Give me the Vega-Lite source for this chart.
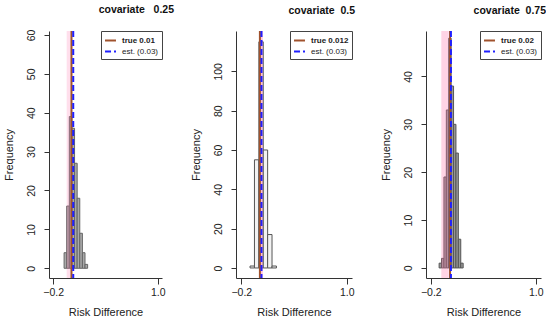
{
  "$schema": "https://vega.github.io/schema/vega-lite/v6.json",
  "background": "white",
  "padding": {"left": 3, "top": 4, "right": 0, "bottom": 0},
  "bounds": "flush",
  "spacing": 74,
  "config": {
    "view": {"stroke": null},
    "font": "Liberation Sans",
    "legend": {"orient": "top-right", "offset": 0, "strokeColor": "#444", "fillColor": "white", "padding": 3, "symbolType": "stroke", "symbolSize": 120, "symbolStrokeWidth": 2, "labelFontSize": 8, "rowPadding": 0, "labelOffset": 5, "cornerRadius": 0, "titlePadding": 0, "labelColor": "#222"},
    "axisX": {"domain": true, "domainColor": "#333", "domainWidth": 1, "grid": false, "tickSize": 6, "tickWidth": 1, "tickColor": "#333", "labelFontSize": 10.5, "labelPadding": 3, "labelOverlap": false, "labelFlush": false, "titleFontSize": 11, "titleFontWeight": "normal", "titlePadding": 9, "labelColor": "#222", "titleColor": "#222", "zindex": 1},
    "axisY": {"domain": true, "domainColor": "#333", "domainWidth": 1, "grid": false, "tickSize": 5, "tickWidth": 1, "tickColor": "#333", "labelFontSize": 10.5, "labelAngle": -90, "labelAlign": "center", "labelBaseline": "bottom", "labelPadding": 8, "labelOverlap": false, "labelFlush": false, "titleFontSize": 11, "titleFontWeight": "normal", "titlePadding": 12, "labelColor": "#222", "titleColor": "#222", "zindex": 1},
    "title": {"anchor": "end", "frame": "group", "fontSize": 10.5, "fontWeight": "bold", "offset": 14, "color": "#111"}
  },
  "resolve": {"scale": {"color": "independent", "strokeDash": "independent"}, "legend": {"color": "independent", "strokeDash": "independent"}},
  "hconcat": [
    {
      "width": 113, "height": 247,
      "title": {"text": "covariate\u00a0\u00a0\u00a00.25", "dx": 12},
      "layer": [
        {
          "data": {"values": [
            {"lo": -0.075, "hi": -0.045, "count": 4},
            {"lo": -0.045, "hi": -0.015, "count": 16},
            {"lo": -0.015, "hi": 0.015, "count": 39},
            {"lo": 0.015, "hi": 0.045, "count": 36},
            {"lo": 0.045, "hi": 0.075, "count": 27},
            {"lo": 0.075, "hi": 0.105, "count": 18},
            {"lo": 0.105, "hi": 0.135, "count": 9},
            {"lo": 0.135, "hi": 0.165, "count": 4},
            {"lo": 0.165, "hi": 0.195, "count": 1}
          ]},
          "mark": {"type": "rect", "fill": "#a9a9a9", "stroke": "#666", "strokeWidth": 1},
          "encoding": {
            "x": {"field": "lo", "type": "quantitative", "scale": {"domain": [-0.248, 1.048], "nice": false, "zero": false}, "axis": {"values": [-0.2, 0, 0.2, 0.4, 0.6, 0.8, 1.0], "labelOverlap": false, "labelExpr": "abs(round(datum.value*10)) % 4 == 2 ? format(datum.value, '.1f') : ''"}, "title": "Risk Difference"},
            "x2": {"field": "hi"},
            "y": {"field": "count", "type": "quantitative", "scale": {"domain": [-2.5, 61], "nice": false, "zero": false}, "axis": {"values": [0, 10, 20, 30, 40, 50, 60], "labelOverlap": false}, "title": "Frequency"},
            "y2": {"datum": 0}
          }
        },
        {
          "data": {"values": [{"lo": -0.045, "hi": 0.005}]},
          "mark": {"type": "rect", "fill": "#ff6fa8", "opacity": 0.22},
          "encoding": {
            "x": {"field": "lo", "type": "quantitative", "title": "Risk Difference", "axis": {"labelOverlap": false}},
            "x2": {"field": "hi"}
          }
        },
        {
          "data": {"values": [{"k": "true 0.01", "v": 0.01}, {"k": "est. (0.03)", "v": 0.03}]},
          "mark": {"type": "rule", "strokeWidth": 2},
          "encoding": {
            "x": {"field": "v", "type": "quantitative", "title": "Risk Difference", "axis": {"labelOverlap": false}},
            "color": {"field": "k", "type": "nominal", "scale": {"domain": ["true 0.01", "est. (0.03)"], "range": ["#a0522d", "#1f1fff"]}, "legend": {"title": null, "encode": {"labels": {"update": {"fontWeight": {"signal": "indexof(datum.value, 'true') == 0 ? 'bold' : 'normal'"}}}}}},
            "strokeDash": {"field": "k", "type": "nominal", "scale": {"domain": ["true 0.01", "est. (0.03)"], "range": [[1, 0], [6, 3]]}, "legend": {"title": null, "encode": {"labels": {"update": {"fontWeight": {"signal": "indexof(datum.value, 'true') == 0 ? 'bold' : 'normal'"}}}}}}
          }
        }
      ]
    },
    {
      "width": 116, "height": 247,
      "title": {"text": "covariate\u00a0\u00a00.5", "dx": 3},
      "layer": [
        {
          "data": {"values": [
            {"lo": -0.1, "hi": -0.05, "count": 1},
            {"lo": -0.05, "hi": 0.0, "count": 55},
            {"lo": 0.0, "hi": 0.05, "count": 115},
            {"lo": 0.05, "hi": 0.1, "count": 60},
            {"lo": 0.1, "hi": 0.15, "count": 17},
            {"lo": 0.15, "hi": 0.2, "count": 1}
          ]},
          "mark": {"type": "rect", "fill": "#f2f2f2", "stroke": "#555", "strokeWidth": 1},
          "encoding": {
            "x": {"field": "lo", "type": "quantitative", "scale": {"domain": [-0.26, 1.06], "nice": false, "zero": false}, "axis": {"values": [-0.2, 0, 0.2, 0.4, 0.6, 0.8, 1.0], "labelOverlap": false, "labelExpr": "abs(round(datum.value*10)) % 4 == 2 ? format(datum.value, '.1f') : ''"}, "title": "Risk Difference"},
            "x2": {"field": "hi"},
            "y": {"field": "count", "type": "quantitative", "scale": {"domain": [-5.1, 120.5], "nice": false, "zero": false}, "axis": {"values": [0, 20, 40, 60, 80, 100], "labelOverlap": false}, "title": "Frequency"},
            "y2": {"datum": 0}
          }
        },
        {
          "data": {"values": [{"lo": 0.005, "hi": 0.045}]},
          "mark": {"type": "rect", "fill": "#ff6fa8", "opacity": 0.4},
          "encoding": {
            "x": {"field": "lo", "type": "quantitative", "title": "Risk Difference", "axis": {"labelOverlap": false}},
            "x2": {"field": "hi"}
          }
        },
        {
          "data": {"values": [{"k": "true 0.012", "v": 0.012}, {"k": "est. (0.03)", "v": 0.03}]},
          "mark": {"type": "rule", "strokeWidth": 2},
          "encoding": {
            "x": {"field": "v", "type": "quantitative", "title": "Risk Difference", "axis": {"labelOverlap": false}},
            "color": {"field": "k", "type": "nominal", "scale": {"domain": ["true 0.012", "est. (0.03)"], "range": ["#a0522d", "#1f1fff"]}, "legend": {"title": null, "encode": {"labels": {"update": {"fontWeight": {"signal": "indexof(datum.value, 'true') == 0 ? 'bold' : 'normal'"}}}}}},
            "strokeDash": {"field": "k", "type": "nominal", "scale": {"domain": ["true 0.012", "est. (0.03)"], "range": [[1, 0], [6, 3]]}, "legend": {"title": null, "encode": {"labels": {"update": {"fontWeight": {"signal": "indexof(datum.value, 'true') == 0 ? 'bold' : 'normal'"}}}}}}
          }
        }
      ]
    },
    {
      "width": 115, "height": 247,
      "title": {"text": "covariate\u00a0\u00a00.75", "dx": 5},
      "layer": [
        {
          "data": {"values": [
            {"lo": -0.105, "hi": -0.0775, "count": 1},
            {"lo": -0.0775, "hi": -0.05, "count": 2},
            {"lo": -0.05, "hi": -0.0225, "count": 19},
            {"lo": -0.0225, "hi": 0.005, "count": 33},
            {"lo": 0.005, "hi": 0.0325, "count": 48},
            {"lo": 0.0325, "hi": 0.06, "count": 38},
            {"lo": 0.06, "hi": 0.0875, "count": 30},
            {"lo": 0.0875, "hi": 0.115, "count": 24},
            {"lo": 0.115, "hi": 0.1425, "count": 6},
            {"lo": 0.1425, "hi": 0.17, "count": 1}
          ]},
          "mark": {"type": "rect", "fill": "#999999", "stroke": "#555", "strokeWidth": 1},
          "encoding": {
            "x": {"field": "lo", "type": "quantitative", "scale": {"domain": [-0.255, 1.06], "nice": false, "zero": false}, "axis": {"values": [-0.2, 0, 0.2, 0.4, 0.6, 0.8, 1.0], "labelOverlap": false, "labelExpr": "abs(round(datum.value*10)) % 4 == 2 ? format(datum.value, '.1f') : ''"}, "title": "Risk Difference"},
            "x2": {"field": "hi"},
            "y": {"field": "count", "type": "quantitative", "scale": {"domain": [-2.1, 49.5], "nice": false, "zero": false}, "axis": {"values": [0, 10, 20, 30, 40], "labelOverlap": false}, "title": "Frequency"},
            "y2": {"datum": 0}
          }
        },
        {
          "data": {"values": [{"lo": -0.08, "hi": 0.005}]},
          "mark": {"type": "rect", "fill": "#ff6fa8", "opacity": 0.3},
          "encoding": {
            "x": {"field": "lo", "type": "quantitative", "title": "Risk Difference", "axis": {"labelOverlap": false}},
            "x2": {"field": "hi"}
          }
        },
        {
          "data": {"values": [{"k": "true 0.02", "v": 0.02}, {"k": "est. (0.03)", "v": 0.03}]},
          "mark": {"type": "rule", "strokeWidth": 2},
          "encoding": {
            "x": {"field": "v", "type": "quantitative", "title": "Risk Difference", "axis": {"labelOverlap": false}},
            "color": {"field": "k", "type": "nominal", "scale": {"domain": ["true 0.02", "est. (0.03)"], "range": ["#a0522d", "#1f1fff"]}, "legend": {"title": null, "encode": {"labels": {"update": {"fontWeight": {"signal": "indexof(datum.value, 'true') == 0 ? 'bold' : 'normal'"}}}}}},
            "strokeDash": {"field": "k", "type": "nominal", "scale": {"domain": ["true 0.02", "est. (0.03)"], "range": [[1, 0], [6, 3]]}, "legend": {"title": null, "encode": {"labels": {"update": {"fontWeight": {"signal": "indexof(datum.value, 'true') == 0 ? 'bold' : 'normal'"}}}}}}
          }
        }
      ]
    }
  ]
}
